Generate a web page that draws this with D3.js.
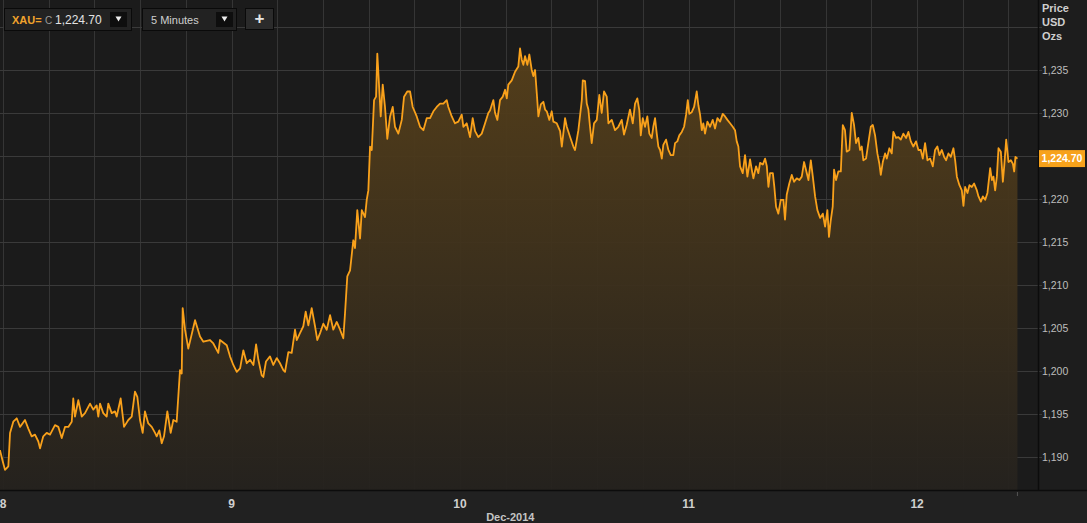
<!DOCTYPE html>
<html>
<head>
<meta charset="utf-8">
<script src="https://cdn.jsdelivr.net/npm/d3@7"></script>
<style>
  body { margin: 0; background: #202020; overflow: hidden; }
  svg { display: block; font-family: "Liberation Sans", Arial, sans-serif; }
</style>
</head>
<body>
<div id="chart"></div>
<script>
// XAU= 5 minute prices, [hours since 8 Dec 00:00, price]
var dec8 = [[-0.32,1190.8],[-0.03,1189.5],[0.21,1188.5],[0.56,1188.9],[0.74,1192.8],[1.08,1194.1],[1.44,1194.5],[1.79,1193.5],[2.31,1194.3],[2.66,1193.3],[3.01,1192.4],[3.36,1192.6],[3.71,1191.8],[3.89,1191.0],[4.23,1192.4],[4.59,1192.8],[4.94,1192.6],[5.46,1193.7],[5.81,1193.5],[6.17,1192.2],[6.51,1193.5],[6.86,1193.5],[7.22,1194.1],[7.38,1196.8],[7.56,1194.7],[7.91,1196.6],[8.27,1194.7],[8.61,1195.1],[9.14,1196.2],[9.48,1195.5],[9.84,1196.0],[10.01,1194.7],[10.19,1196.2],[10.53,1195.1],[10.89,1194.7],[11.06,1196.2],[11.42,1195.1],[11.76,1195.3],[11.94,1194.7],[12.36,1196.8],[12.71,1193.5],[13.16,1194.3],[13.52,1194.7],[13.86,1197.6],[14.11,1197.0],[14.39,1194.3],[14.67,1192.8],[14.91,1195.3],[15.26,1193.9],[15.62,1193.5],[15.97,1192.8],[16.14,1192.4],[16.42,1193.1],[16.67,1191.6],[16.91,1192.4],[17.26,1195.3],[17.61,1192.8],[17.89,1194.3],[18.24,1194.1],[18.59,1200.1],[18.77,1199.7],[18.87,1207.3],[19.12,1204.8],[19.46,1202.6],[20.17,1205.9],[20.69,1204.0],[21.04,1203.4],[21.74,1203.6],[22.09,1203.2],[22.61,1202.1],[22.79,1203.6],[23.50,1203.0],[23.84,1201.7]];
var dec9 = [[24.19,1200.7],[24.55,1199.9],[24.90,1200.3],[25.24,1202.4],[25.60,1200.9],[25.95,1201.3],[26.30,1200.7],[26.58,1203.1],[26.82,1201.3],[27.17,1199.5],[27.34,1199.3],[27.62,1201.1],[28.04,1201.7],[28.39,1200.7],[28.75,1201.5],[29.09,1200.9],[29.44,1200.1],[29.62,1199.9],[29.97,1202.2],[30.32,1202.1],[30.67,1204.8],[30.85,1203.6],[31.19,1204.4],[31.54,1205.2],[31.79,1206.9],[32.07,1205.3],[32.42,1207.3],[32.77,1205.2],[33.01,1203.6],[33.30,1204.4],[33.64,1205.5],[34.00,1204.8],[34.35,1206.5],[34.69,1204.8],[35.05,1205.7],[35.40,1204.8],[35.74,1203.8],[35.92,1206.7],[36.16,1211.0],[36.45,1211.7],[36.79,1215.2],[36.97,1214.3],[37.21,1218.7],[37.50,1215.4],[37.68,1218.7],[38.02,1217.9],[38.20,1219.9],[38.37,1221.0],[38.55,1226.1],[38.73,1225.7],[38.97,1231.5],[39.18,1231.9],[39.31,1236.9],[39.52,1232.7],[39.67,1229.6],[39.88,1233.3],[40.12,1230.7],[40.36,1227.0],[40.65,1229.6],[40.93,1230.7],[41.17,1228.4],[41.52,1227.6],[41.88,1229.2],[42.12,1231.9],[42.46,1232.5],[42.75,1232.5],[43.03,1230.7],[43.45,1229.6],[43.80,1228.4],[44.15,1228.0],[44.50,1229.4],[44.85,1229.4],[45.20,1230.2],[45.55,1230.7],[45.90,1231.1],[46.25,1231.1],[46.60,1231.5],[46.77,1230.7],[47.13,1229.6],[47.47,1228.8],[47.82,1229.0]];
var dec10 = [[48.18,1229.8],[48.35,1228.4],[48.70,1228.8],[49.05,1227.2],[49.33,1229.4],[49.58,1227.9],[49.92,1227.2],[50.28,1227.6],[50.63,1228.8],[50.97,1230.0],[51.15,1230.3],[51.50,1231.5],[51.68,1230.0],[51.92,1229.2],[52.20,1231.5],[52.49,1231.9],[52.73,1232.7],[52.91,1231.7],[53.07,1233.3],[53.43,1233.8],[53.78,1234.8],[54.12,1235.4],[54.30,1237.5],[54.48,1236.2],[54.65,1235.6],[54.83,1236.6],[55.07,1235.6],[55.28,1236.8],[55.53,1235.0],[55.70,1234.3],[55.88,1235.0],[56.06,1232.3],[56.23,1229.6],[56.48,1231.0],[56.75,1231.3],[56.93,1230.4],[57.11,1230.2],[57.38,1229.2],[57.63,1230.2],[57.80,1229.0],[58.16,1228.8],[58.51,1227.9],[58.69,1226.1],[59.03,1229.4],[59.21,1228.4],[59.56,1227.2],[59.90,1226.1],[60.08,1225.7],[60.43,1228.0],[60.79,1231.5],[60.89,1233.8],[61.13,1233.7],[61.31,1231.1],[61.48,1230.4],[61.65,1228.4],[61.83,1226.5],[62.07,1228.8],[62.36,1229.2],[62.63,1232.1],[62.88,1230.0],[63.12,1232.5],[63.41,1231.9],[63.58,1228.8],[63.93,1229.2],[64.28,1228.0],[64.63,1228.4],[64.98,1229.2],[65.22,1227.5],[65.50,1228.6],[65.85,1230.4],[66.14,1228.8],[66.38,1231.1],[66.62,1231.7],[66.83,1230.3],[66.98,1227.4],[67.19,1229.4],[67.43,1228.4],[67.67,1229.6],[67.88,1227.6],[68.13,1227.1],[68.30,1228.4],[68.48,1229.4],[68.66,1227.6],[68.83,1226.1],[69.01,1225.7],[69.19,1224.7],[69.35,1226.3],[69.64,1226.9],[69.88,1225.7],[70.13,1225.1],[70.40,1225.1],[70.58,1226.5],[70.82,1226.7],[71.03,1227.4],[71.29,1227.8],[71.53,1228.4],[71.74,1229.8],[71.92,1231.5]];
var dec11 = [[72.08,1229.9],[72.34,1230.1],[72.58,1230.7],[72.86,1232.5],[73.03,1230.9],[73.21,1229.8],[73.39,1228.0],[73.55,1228.8],[73.73,1227.6],[73.98,1229.0],[74.26,1228.4],[74.54,1229.2],[74.78,1228.2],[75.03,1229.4],[75.31,1229.0],[75.59,1229.9],[75.83,1229.6],[76.08,1229.2],[76.36,1228.8],[76.64,1228.4],[76.88,1228.0],[77.06,1226.7],[77.23,1226.1],[77.41,1223.8],[77.69,1223.0],[77.93,1225.1],[78.18,1222.6],[78.46,1224.6],[78.64,1223.4],[78.81,1222.4],[79.09,1223.8],[79.33,1223.0],[79.51,1224.2],[79.80,1224.0],[80.04,1224.7],[80.22,1223.8],[80.39,1221.4],[80.56,1223.0],[80.85,1223.0],[81.01,1221.4],[81.19,1219.1],[81.43,1218.3],[81.68,1219.9],[81.96,1219.9],[82.13,1217.6],[82.31,1220.5],[82.58,1221.8],[82.84,1222.8],[83.08,1222.0],[83.36,1222.4],[83.64,1222.2],[83.89,1222.6],[84.13,1224.3],[84.42,1223.0],[84.59,1222.2],[84.84,1224.5],[85.05,1222.6],[85.29,1220.3],[85.53,1218.7],[85.82,1217.8],[86.10,1218.3],[86.34,1216.8],[86.58,1218.7],[86.75,1215.6],[86.92,1217.4],[87.14,1219.1],[87.28,1223.4],[87.49,1222.2],[87.73,1223.2],[87.99,1223.2],[88.20,1228.6],[88.43,1228.0],[88.61,1225.5],[88.89,1225.7],[89.14,1230.0],[89.38,1228.6],[89.59,1226.5],[89.83,1227.1],[90.01,1225.7],[90.19,1226.1],[90.36,1224.5],[90.64,1224.7],[90.88,1226.5],[91.14,1228.4],[91.35,1228.6],[91.59,1227.4],[91.83,1225.3],[92.04,1224.1],[92.19,1222.8],[92.40,1224.3],[92.64,1225.3],[92.82,1224.7],[93.09,1225.9],[93.34,1225.3],[93.51,1227.8],[93.79,1227.1],[94.04,1227.2],[94.29,1226.9],[94.56,1227.6],[94.85,1227.1],[95.09,1227.8],[95.34,1226.7],[95.61,1226.1]];
var dec12 = [[95.89,1226.7],[96.14,1225.7],[96.39,1225.7],[96.60,1224.7],[96.84,1226.5],[97.09,1224.5],[97.37,1224.7],[97.65,1223.8],[97.89,1225.7],[98.13,1226.1],[98.35,1225.1],[98.60,1225.7],[98.84,1224.9],[99.05,1224.5],[99.29,1225.3],[99.55,1224.9],[99.82,1225.9],[100.00,1224.5],[100.18,1222.6],[100.45,1221.6],[100.70,1221.0],[100.87,1219.2],[101.05,1221.4],[101.29,1220.7],[101.50,1221.6],[101.75,1221.4],[101.99,1221.8],[102.28,1221.0],[102.45,1220.3],[102.70,1219.7],[102.91,1220.3],[103.15,1219.9],[103.39,1220.7],[103.68,1223.6],[103.86,1222.2],[104.02,1222.6],[104.20,1221.0],[104.38,1222.6],[104.55,1225.9],[104.80,1225.5],[105.01,1222.0],[105.15,1223.8],[105.36,1226.9],[105.60,1224.3],[105.85,1224.5],[106.06,1224.1],[106.20,1223.2],[106.33,1224.9],[106.54,1224.7]];

var priceTicks = [1190, 1195, 1200, 1205, 1210, 1215, 1220, 1225, 1230, 1235, 1240];
var dayLabels = ["8", "9", "10", "11", "12"];
var monthLabel = "Dec-2014";
var lastPrice = 1224.70;
var ric = "XAU=";
var interval = "5 Minutes";
var axisTitle = ["Price", "USD", "Ozs"];

var W = 1087, H = 523;
var plotW = 1038, plotH = 490;
var t0 = Date.UTC(2014, 11, 8);
var HOUR = 3600000;
var data = [].concat(dec8, dec9, dec10, dec11, dec12).map(d => ({ t: new Date(t0 + d[0] * HOUR), v: d[1] }));

var svg = d3.select("#chart").append("svg").attr("width", W).attr("height", H);

// backgrounds
svg.append("rect").attr("width", W).attr("height", H).attr("fill", "#212121");
svg.append("rect").attr("width", plotW).attr("height", plotH).attr("fill", "#1b1b1b");
svg.append("rect").attr("x", plotW).attr("width", W - plotW).attr("height", plotH).attr("fill", "#1d1d1d");

var x = d3.scaleUtc()
  .domain([new Date(t0 - 0.315 * HOUR), new Date(t0 + 108.7 * HOUR)])
  .range([0, plotW]);
var y = d3.scaleLinear().domain([1186.16, 1243.14]).range([plotH, 0]);

// grid
var grid = svg.append("g");
var vTicks = d3.range(0, 23).map(k => new Date(t0 + k * 4.8 * HOUR)).filter(t => x(t) < plotW);
grid.selectAll(".vg").data(vTicks).enter().append("line")
  .attr("x1", d => Math.round(x(d)) + 0.5).attr("x2", d => Math.round(x(d)) + 0.5)
  .attr("y1", 0).attr("y2", plotH)
  .attr("stroke", "#353535");
grid.selectAll(".hg").data(priceTicks).enter().append("line")
  .attr("x1", 0).attr("x2", plotW + 4)
  .attr("y1", d => Math.round(y(d)) + 0.5).attr("y2", d => Math.round(y(d)) + 0.5)
  .attr("stroke", "#3a3a3a");

// area + line
var defs = svg.append("defs");
var grad = defs.append("linearGradient").attr("id", "fillGrad")
  .attr("gradientUnits", "userSpaceOnUse")
  .attr("x1", 0).attr("y1", 40).attr("x2", 0).attr("y2", plotH);
grad.append("stop").attr("offset", "0%").attr("stop-color", "#57401a");
grad.append("stop").attr("offset", "100%").attr("stop-color", "#25221e");

var area = d3.area().x(d => x(d.t)).y0(plotH).y1(d => y(d.v));
var line = d3.line().x(d => x(d.t)).y(d => y(d.v));
svg.append("path").datum(data).attr("d", area).attr("fill", "url(#fillGrad)").attr("opacity", 0.95);
svg.append("path").datum(data).attr("d", line)
  .attr("fill", "none").attr("stroke", "#f9a11b").attr("stroke-width", 1.8)
  .attr("stroke-linejoin", "round");

// axes lines
svg.append("line").attr("x1", plotW + 0.5).attr("x2", plotW + 0.5).attr("y1", 0).attr("y2", plotH)
  .attr("stroke", "#0c0c0c").attr("stroke-width", 1.5);
svg.append("line").attr("x1", 0).attr("x2", W).attr("y1", plotH + 0.5).attr("y2", plotH + 0.5)
  .attr("stroke", "#0c0c0c").attr("stroke-width", 1.5);
var last = data[data.length - 1];
svg.append("line").attr("x1", x(last.t)).attr("x2", x(last.t)).attr("y1", plotH + 2).attr("y2", plotH + 6)
  .attr("stroke", "#555");

// last price box position; tick labels behind it are hidden
var ly = y(lastPrice);

// right axis labels
var yAxis = svg.append("g");
yAxis.selectAll("text").data(priceTicks.filter(d => d < 1240 && Math.abs(y(d) - ly) > 12)).enter().append("text")
  .attr("x", plotW + 4).attr("y", d => y(d)).attr("dy", "0.35em")
  .attr("fill", "#bdbdbd").attr("font-size", "10.5px")
  .text(d => d3.format(",")(d));
yAxis.selectAll(".ttl").data(axisTitle).enter().append("text")
  .attr("x", plotW + 4).attr("y", (d, i) => 12 + i * 14)
  .attr("fill", "#cfcfcf").attr("font-size", "11px").attr("font-weight", "bold")
  .text(d => d);

svg.append("rect").attr("x", plotW + 1).attr("y", ly - 8.5).attr("width", 46).attr("height", 17).attr("fill", "#f7a21b");
svg.append("text").attr("x", plotW + 24).attr("y", ly).attr("dy", "0.36em").attr("text-anchor", "middle")
  .attr("fill", "#fff").attr("font-size", "10.5px").attr("font-weight", "bold")
  .text(d3.format(",.2f")(lastPrice));

// bottom axis labels
var days = dayLabels.map((d, i) => ({ label: d, t: new Date(t0 + i * 24 * HOUR) }));
svg.selectAll(".day").data(days).enter().append("text")
  .attr("x", d => x(d.t)).attr("y", 508).attr("text-anchor", "middle")
  .attr("fill", "#cfcfcf").attr("font-size", "12px").attr("font-weight", "bold")
  .text(d => d.label);
svg.append("text").attr("x", x(new Date(t0 + 2.22 * 24 * HOUR))).attr("y", 521).attr("text-anchor", "middle")
  .attr("fill", "#c4c4c4").attr("font-size", "11px").attr("font-weight", "bold")
  .text(monthLabel);

// toolbar
var tb = svg.append("g");
function box(x0, w) {
  tb.append("rect").attr("x", x0 + 0.5).attr("y", 8.5).attr("width", w).attr("height", 22)
    .attr("fill", "#222").attr("stroke", "#0a0a0a");
}
function arrow(x0) {
  tb.append("rect").attr("x", x0).attr("y", 12).attr("width", 17).attr("height", 15).attr("fill", "#0e0e0e");
  tb.append("path").attr("d", `M${x0 + 5.5},16.5 L${x0 + 11.5},16.5 L${x0 + 8.5},21.5 Z`).attr("fill", "#eee");
}
box(4, 127);
arrow(110);
tb.append("text").attr("x", 12).attr("y", 24).attr("fill", "#f0a22c").attr("font-size", "11px").attr("font-weight", "bold").text(ric);
tb.append("text").attr("x", 45).attr("y", 24).attr("fill", "#9a9a9a").attr("font-size", "10px").text("C");
tb.append("text").attr("x", 55).attr("y", 24).attr("fill", "#e2e2e2").attr("font-size", "12px").text(d3.format(",.2f")(lastPrice));
box(142, 94);
arrow(216);
tb.append("text").attr("x", 151).attr("y", 24).attr("fill", "#cfcfcf").attr("font-size", "11px").text(interval);
tb.append("rect").attr("x", 245.5).attr("y", 8.5).attr("width", 28).attr("height", 21)
  .attr("fill", "#2b2b2b").attr("stroke", "#0a0a0a");
tb.append("text").attr("x", 259.5).attr("y", 24).attr("text-anchor", "middle").attr("fill", "#e6e6e6")
  .attr("font-size", "17px").attr("font-weight", "bold").text("+");
</script>
</body>
</html>
